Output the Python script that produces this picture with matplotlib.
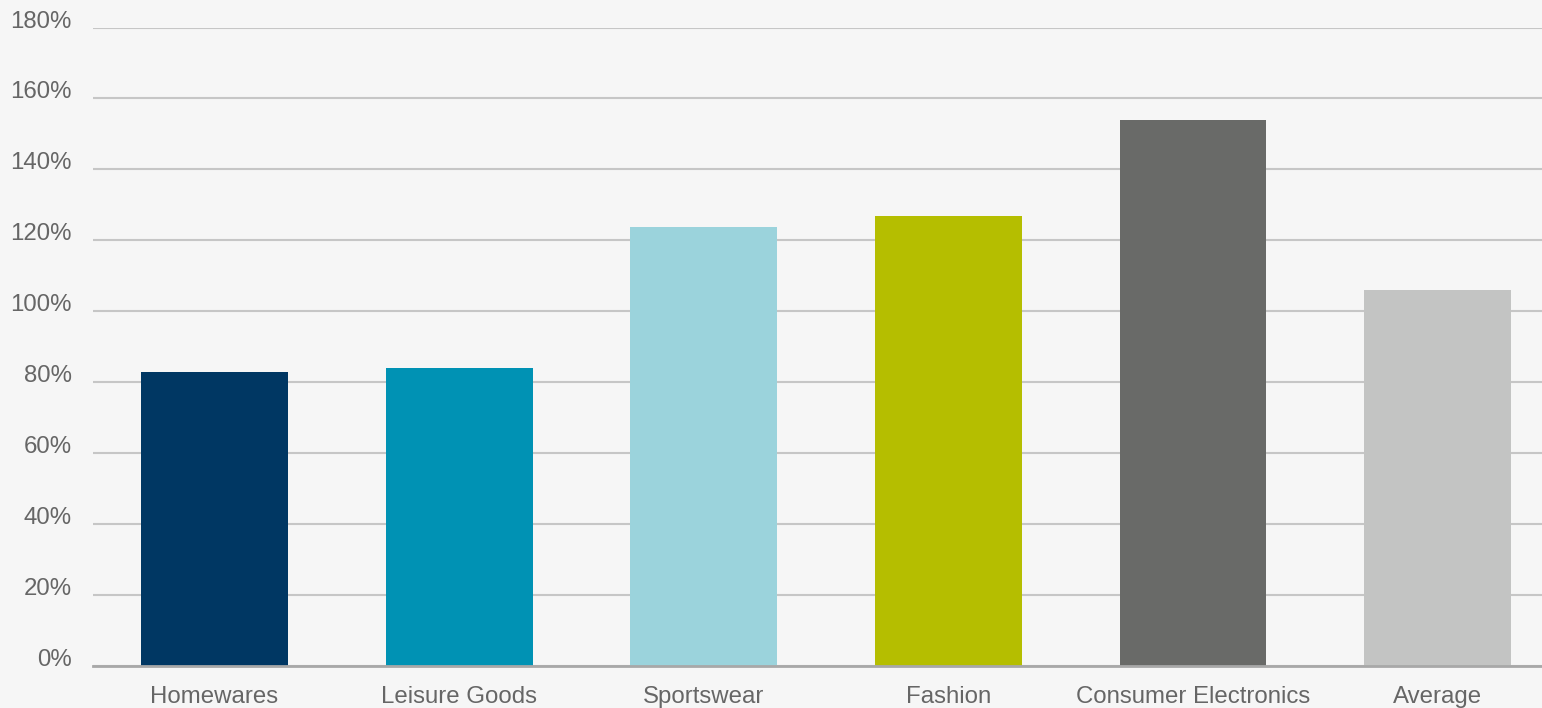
import matplotlib
matplotlib.use("Agg")
import matplotlib.pyplot as plt
from matplotlib.ticker import FuncFormatter

# Chart data.

categories = ["Homewares", "Leisure Goods", "Sportswear", "Fashion",
              "Consumer Electronics", "Average"]
values = [82.8, 83.9, 123.7, 126.8, 153.8, 105.9]
colors = ["#003763", "#0092b4", "#9bd3dc", "#b5be00", "#696a68", "#c3c4c3"]
y_ticks = [0, 20, 40, 60, 80, 100, 120, 140, 160, 180]

matplotlib.rcParams["font.family"] = ["Liberation Sans", "DejaVu Sans"]

fig = plt.figure(figsize=(15.42, 7.08), dpi=100, facecolor="#f6f6f6")
ax = fig.add_axes([92.5 / 1542, 42 / 708, 1 - 92.5 / 1542, 638.5 / 708])
ax.set_facecolor("#f6f6f6")

x = list(range(len(categories)))
ax.bar(x, values, width=0.6, color=colors, zorder=3)

ax.set_xlim(-0.499, 5.427)
ax.set_ylim(0, 180)
ax.set_yticks(y_ticks)
ax.yaxis.set_major_formatter(FuncFormatter(lambda v, p: "{0:d}%".format(int(v))))
ax.set_xticks(x)
ax.set_xticklabels(categories)

ax.grid(axis="y", color="#c6c6c6", linewidth=1.5, zorder=1)
ax.set_axisbelow(True)
for side in ["top", "right", "left"]:
    ax.spines[side].set_visible(False)
ax.spines["bottom"].set_color("#a8a8a8")
ax.spines["bottom"].set_linewidth(2)
ax.spines["bottom"].set_zorder(4)

ax.tick_params(axis="both", length=0, labelsize=17.25, labelcolor="#666666")
ax.tick_params(axis="y", pad=15)
ax.tick_params(axis="x", pad=14.5)
for label in ax.get_yticklabels():
    label.set_verticalalignment("baseline")

fig.savefig("out.png", dpi=100, facecolor=fig.get_facecolor())
